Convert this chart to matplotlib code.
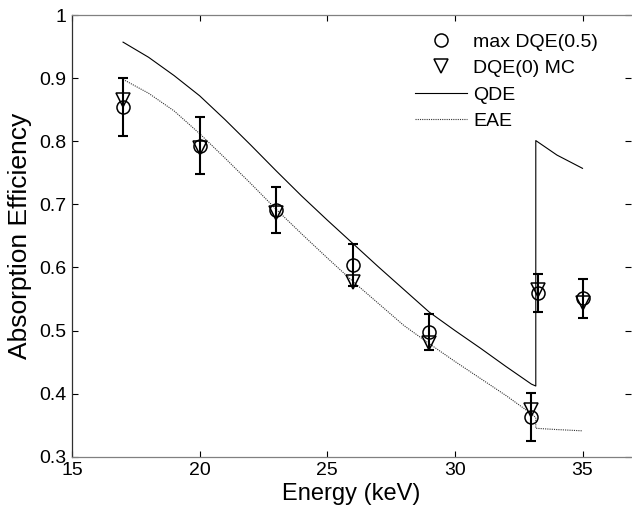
import matplotlib
matplotlib.use("Agg")
import matplotlib.pyplot as plt

plt.rcParams['font.family'] = ['Liberation Sans', 'DejaVu Sans']

# measured points
energy = [17, 20, 23, 26, 29, 33, 33.25, 35]
dqe_max = [0.854, 0.793, 0.691, 0.604, 0.498, 0.363, 0.559, 0.551]
dqe_err = [0.046, 0.045, 0.0365, 0.033, 0.0285, 0.038, 0.030, 0.0305]
dqe0_mc = [0.866, 0.789, 0.686, 0.577, 0.480, 0.374, 0.564, 0.543]

# model curves
e_curve = [17, 18, 19, 20, 21, 22, 23, 24, 25, 26, 27, 28, 29, 30, 31, 32, 33,
           33.17, 33.17, 34, 35]
qde = [0.957, 0.933, 0.904, 0.872, 0.834, 0.794, 0.753, 0.713, 0.675, 0.638,
       0.601, 0.565, 0.529, 0.500, 0.472, 0.443, 0.415, 0.412, 0.801, 0.778, 0.757]
eae = [0.898, 0.876, 0.848, 0.812, 0.773, 0.733, 0.692, 0.653, 0.615, 0.578,
       0.543, 0.508, 0.479, 0.451, 0.424, 0.397, 0.368, 0.362, 0.345, 0.343, 0.341]

fig = plt.figure(figsize=(6.32, 5.16), dpi=100)
ax = fig.add_axes([72/632, 59.3/516, 559/632, 441.7/516])

ax.plot(e_curve, qde, color='black', lw=0.8, label='QDE')
ax.plot(e_curve, eae, color='#333333', lw=0.8, linestyle=(0, (1, 1)), label='EAE')
ax.errorbar(energy, dqe_max, yerr=dqe_err, fmt='none', ecolor='black',
            elinewidth=1.5, capsize=3.6, capthick=1.5)
ax.plot(energy, dqe_max, 'o', ms=9.4, mfc='none', mec='black', mew=1.1,
        label='max DQE(0.5)')
ax.plot(energy, dqe0_mc, 'v', ms=9.4, mfc='none', mec='black', mew=1.1,
        label='DQE(0) MC')

ax.set_xlim(15, 36.9)
ax.set_ylim(0.3, 1.0)
ax.set_xticks([15, 20, 25, 30, 35])
ax.set_yticks([0.3, 0.4, 0.5, 0.6, 0.7, 0.8, 0.9, 1.0])
ax.set_yticklabels(['0.3', '0.4', '0.5', '0.6', '0.7', '0.8', '0.9', '1'])
ax.tick_params(direction='in', length=4, width=0.8, top=True, right=True,
               labelsize=14, pad=4)
for side in ['top', 'bottom']:
    ax.spines[side].set_color('#808080')
ax.spines['left'].set_color('#303030')
ax.spines['right'].set_visible(False)
for s in ax.spines.values():
    s.set_linewidth(0.9)

ax.set_xlabel('Energy (keV)', fontsize=17, labelpad=3)
ax.set_ylabel('Absorption Efficiency', fontsize=19, labelpad=5)

h, l = ax.get_legend_handles_labels()
order = [2, 3, 0, 1]
ax.legend([h[i] for i in order], [l[i] for i in order], frameon=False,
          fontsize=14, loc='upper left', bbox_to_anchor=(415/632, 1 - 33/516),
          bbox_transform=fig.transFigure, borderpad=0, borderaxespad=0,
          handlelength=2.7, handletextpad=0.3, labelspacing=0.46)

fig.savefig('out.png', dpi=100)
